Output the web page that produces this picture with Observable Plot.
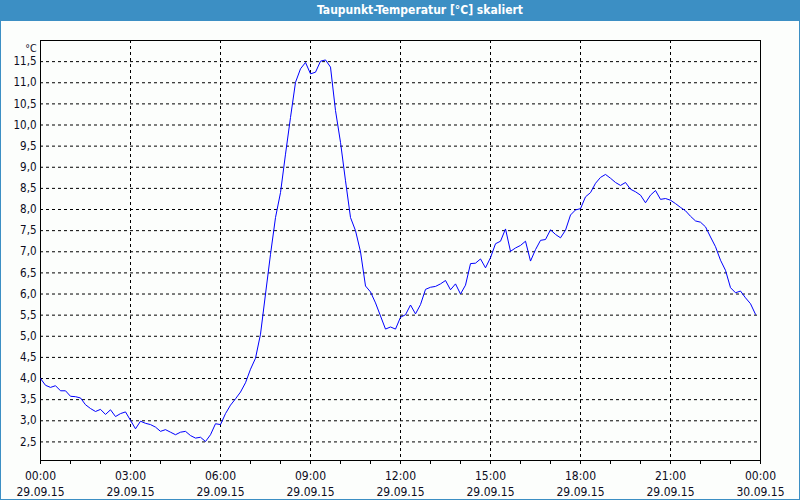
<!DOCTYPE html>
<html>
<head>
<meta charset="utf-8">
<script src="https://cdn.jsdelivr.net/npm/d3@7"></script>
<script src="https://cdn.jsdelivr.net/npm/@observablehq/plot@0.6"></script>
<style>
  html, body { margin: 0; padding: 0; background: #ffffff; }
  #wrap { position: relative; width: 800px; height: 500px; background: #fcfefc; overflow: hidden; }
  #title { position: absolute; left: 0; top: 0; width: 800px; height: 21px; background: #3c8fc4;
           color: #ffffff; font: bold 12px "DejaVu Sans Condensed", "Liberation Sans", sans-serif;
           line-height: 20px; text-align: center; text-indent: 40px; }
  #chart { position: absolute; left: 0; top: 20px; }
  #border { position: absolute; left: 0; top: 0; width: 800px; height: 500px; box-sizing: border-box;
            border: 1px solid #3c8fc4; pointer-events: none; }
  svg text { fill: #0c0c1c; }
</style>
</head>
<body>
<div id="wrap">
  <div id="title">Taupunkt-Temperatur [°C] skaliert</div>
  <div id="chart"></div>
  <div id="border"></div>
</div>
<script>
// Chart data: dew point in °C, one reading every 10 minutes from 29.09.15 00:00
const startLabel = "29.09.15 00:00";
const stepMinutes = 10;
const dewPoint = [
  4.00, 3.84, 3.79, 3.83, 3.71, 3.71, 3.58, 3.57, 3.54, 3.38,
  3.29, 3.22, 3.27, 3.15, 3.26, 3.10, 3.17, 3.21, 3.01, 2.81,
  2.99, 2.94, 2.91, 2.85, 2.75, 2.79, 2.73, 2.67, 2.73, 2.75,
  2.65, 2.59, 2.61, 2.51, 2.67, 2.93, 2.91, 3.17, 3.37, 3.52,
  3.68, 3.90, 4.22, 4.48, 5.05, 6.00, 6.94, 7.81, 8.40, 9.31,
  10.18, 11.01, 11.33, 11.48, 11.21, 11.25, 11.51, 11.54, 11.37, 10.34,
  9.59, 8.68, 7.81, 7.50, 7.00, 6.19, 6.05, 5.79, 5.48, 5.17,
  5.22, 5.17, 5.45, 5.51, 5.74, 5.53, 5.75, 6.11, 6.16, 6.18,
  6.24, 6.32, 6.10, 6.24, 6.00, 6.21, 6.72, 6.73, 6.83, 6.62,
  6.86, 7.19, 7.25, 7.54, 7.01, 7.09, 7.15, 7.25, 6.78, 7.05,
  7.27, 7.29, 7.52, 7.41, 7.33, 7.51, 7.87, 7.99, 8.02, 8.30,
  8.40, 8.62, 8.76, 8.83, 8.74, 8.64, 8.57, 8.64, 8.48, 8.42,
  8.34, 8.16, 8.34, 8.45, 8.24, 8.26, 8.22, 8.14, 8.05, 7.97,
  7.84, 7.73, 7.70, 7.59, 7.35, 7.12, 6.80, 6.56, 6.15, 6.03,
  6.07, 5.91, 5.77, 5.52
];

// Axis ticks
const xTickHours = [0, 3, 6, 9, 12, 15, 18, 21, 24];
const xTickTimes = ["00:00", "03:00", "06:00", "09:00", "12:00", "15:00", "18:00", "21:00", "00:00"];
const xTickDates = ["29.09.15", "29.09.15", "29.09.15", "29.09.15", "29.09.15", "29.09.15", "29.09.15", "29.09.15", "30.09.15"];
const xMinorHours = [0,1,2,3,4,5,6,7,8,9,10,11,12,13,14,15,16,17,18,19,20,21,22,23,24];
const yTicks = [2.5, 3.0, 3.5, 4.0, 4.5, 5.0, 5.5, 6.0, 6.5, 7.0, 7.5, 8.0, 8.5, 9.0, 9.5, 10.0, 10.5, 11.0, 11.5];
const yTickLabels = ["2,5","3,0","3,5","4,0","4,5","5,0","5,5","6,0","6,5","7,0","7,5","8,0","8,5","9,0","9,5","10,0","10,5","11,0","11,5"];
const yUnit = ["°C"];
const xDomain = [0, 24];
const yDomain = [2.06, 12.0];

const rows = dewPoint.map((v, i) => ({hour: i * stepMinutes / 60, value: v}));
const font = '"DejaVu Sans Condensed", "Liberation Sans", sans-serif';

const chart = Plot.plot({
  width: 800,
  height: 480,
  marginLeft: 40,
  marginRight: 40,
  marginTop: 20,
  marginBottom: 40,
  style: {background: "transparent", fontFamily: font, fontSize: "11px", color: "#0c0c1c"},
  x: {domain: xDomain, axis: null},
  y: {domain: yDomain, axis: null},
  marks: [
    Plot.ruleY(yTicks, {y: d => d, stroke: "#000", strokeWidth: 1, strokeDasharray: "3,3"}),
    Plot.ruleX(xTickHours.slice(1, -1), {x: d => d, stroke: "#000", strokeWidth: 1, strokeDasharray: "3,3"}),
    Plot.frame({stroke: "#000", strokeWidth: 1}),
    Plot.axisY(yTicks, {
      tickSize: 0, tickPadding: 4,
      tickFormat: d => yTickLabels[yTicks.indexOf(d)],
      fontSize: 11.5, label: null
    }),
    Plot.axisX(xMinorHours, {tickSize: 4, tickFormat: () => "", label: null, stroke: "#000"}),
    Plot.axisX(xTickHours, {
      tickSize: 0, tickPadding: 8,
      tickFormat: d => xTickTimes[xTickHours.indexOf(d)] + "\n" + xTickDates[xTickHours.indexOf(d)],
      fontSize: 12, lineHeight: 1.35, label: null
    }),
    Plot.text(yUnit, {text: d => d, frameAnchor: "top-left", dx: -4, dy: 4, textAnchor: "end", fontSize: 10.5}),
    Plot.line(rows, {x: "hour", y: "value", stroke: "#0000ff", strokeWidth: 1})
  ]
});
document.getElementById("chart").appendChild(chart);
</script>
</body>
</html>
